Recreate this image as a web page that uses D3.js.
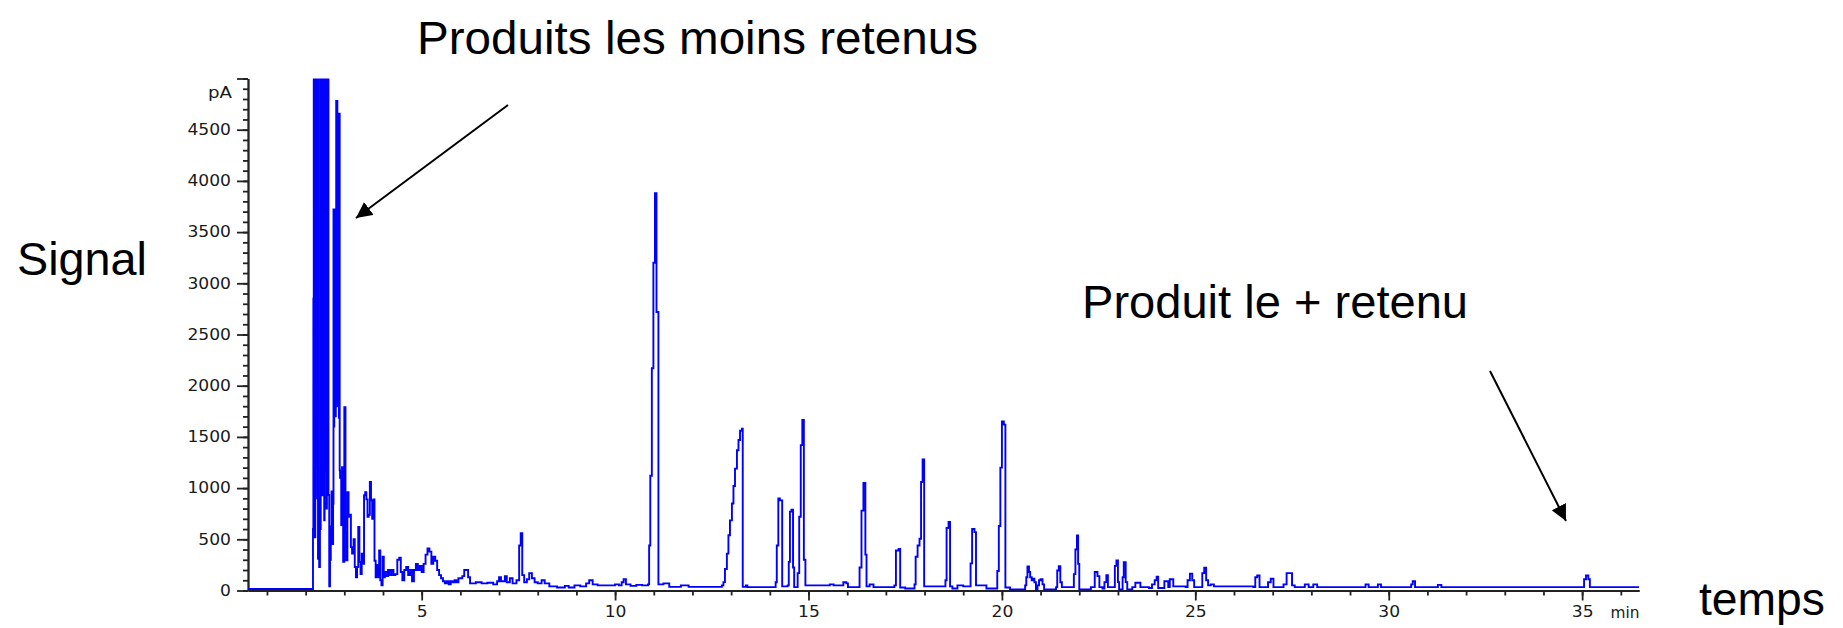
<!DOCTYPE html>
<html><head><meta charset="utf-8">
<script src="https://cdn.jsdelivr.net/npm/d3@7"></script>
<style>body{margin:0;background:#fff;overflow:hidden}</style>
</head><body>
<svg id="c" width="1843" height="628"></svg>
<script>
// ---- data (retention time in min, signal in pA) ----
const times = [
0.51,2.19,2.20,2.21,2.22,2.23,2.24,2.25,2.26,2.27,2.28,2.29,2.30,2.31,2.32,2.33,2.34,2.35,2.37,
2.39,2.40,2.41,2.42,2.43,2.44,2.45,2.46,2.47,2.48,2.49,2.50,2.51,2.52,2.53,2.54,2.55,2.56,2.57,
2.59,2.61,2.63,2.65,2.67,2.69,2.71,2.72,2.73,2.74,2.75,2.76,2.77,2.78,2.79,2.80,2.81,2.82,2.83,
2.84,2.85,2.86,2.87,2.88,2.89,2.92,2.94,2.97,3.00,3.03,3.05,3.08,3.11,3.14,3.17,3.20,3.24,3.27,
3.30,3.33,3.36,3.39,3.42,3.45,3.48,3.51,3.54,3.57,3.60,3.63,3.66,3.69,3.72,3.75,3.78,3.81,3.84,
3.87,3.90,3.93,3.96,3.99,4.02,4.05,4.09,4.13,4.17,4.22,4.27,4.32,4.37,4.42,4.46,4.50,4.55,4.60,
4.65,4.70,4.75,4.80,4.85,4.90,4.95,5.00,5.05,5.10,5.15,5.20,5.25,5.30,5.35,5.40,5.45,5.50,5.55,
5.60,5.65,5.70,5.75,5.80,5.85,5.90,5.95,6.05,6.10,6.20,6.25,6.40,6.55,6.70,6.85,6.95,7.00,7.05,
7.15,7.20,7.28,7.35,7.45,7.52,7.56,7.60,7.65,7.72,7.78,7.85,7.92,8.00,8.10,8.18,8.30,8.50,8.70,
8.80,8.95,9.10,9.25,9.33,9.42,9.55,9.90,10.00,10.10,10.17,10.22,10.28,10.40,10.55,10.70,10.85,
10.88,10.91,10.95,10.99,11.03,11.07,11.12,11.25,11.40,11.70,11.90,12.76,12.80,12.84,12.89,12.93,
12.97,13.02,13.06,13.10,13.15,13.19,13.23,13.28,13.30,13.38,13.42,14.15,14.18,14.22,14.26,14.30,
14.32,14.46,14.49,14.52,14.56,14.60,14.63,14.72,14.76,14.80,14.84,14.88,14.92,15.55,15.65,15.90,
15.98,16.02,16.32,16.37,16.42,16.47,16.50,16.58,16.68,17.22,17.26,17.33,17.37,17.50,17.74,17.77,
17.82,17.87,17.91,17.95,17.99,18.54,18.57,18.62,18.66,18.72,18.85,19.00,19.19,19.23,19.29,19.33,
19.60,19.88,19.92,19.96,20.00,20.05,20.09,20.21,20.60,20.63,20.66,20.70,20.73,20.77,20.80,20.84,
20.88,20.92,20.96,21.00,21.05,21.09,21.40,21.43,21.47,21.51,21.55,21.86,21.90,21.94,21.97,22.00,
22.30,22.40,22.47,22.52,22.60,22.65,22.70,22.74,22.86,22.92,22.96,23.00,23.03,23.12,23.15,23.20,
23.24,23.37,23.45,23.58,23.80,23.88,23.95,24.00,24.04,24.20,24.30,24.34,24.43,24.75,24.80,24.86,
24.92,24.97,25.15,25.18,25.23,25.28,25.33,25.40,25.48,26.50,26.55,26.60,26.66,26.85,26.88,26.95,
27.02,27.20,27.28,27.36,27.42,27.50,27.57,27.83,27.93,28.05,28.15,29.40,29.48,29.72,29.80,30.58,
30.62,30.68,31.27,31.36,35.02,35.05,35.10,35.16,35.20,36.47
];
const signal = [
15,600,2850,9999,1720,9999,520,9999,1200,9999,1720,9999,900,9999,310,9999,900,230,600,
9999,1600,9999,930,9999,3660,9999,1000,9999,685,9999,1200,9999,2000,9999,800,9999,1500,9999,
933,42,300,626,968,453,850,3720,1600,3720,2000,3720,1700,3720,4780,2500,4780,1800,4656,
3000,4656,1686,4656,1173,1100,640,1205,280,1790,560,294,960,720,740,424,360,500,230,
130,230,620,280,160,360,260,930,960,890,720,740,1060,880,700,890,290,130,250,
130,390,100,50,330,130,180,140,200,150,200,150,160,300,320,180,100,200,230,
150,200,90,200,260,200,240,180,260,350,410,380,260,330,290,200,150,120,90,
70,90,60,90,80,100,80,120,140,200,130,70,80,70,75,60,90,130,90,
140,80,120,70,100,440,560,150,80,110,170,120,80,70,100,70,40,30,45,
30,50,40,70,100,60,50,50,60,50,80,110,60,45,55,50,60,
440,1120,2170,3200,3880,2720,60,70,35,50,35,50,82,210,360,540,
685,850,1020,1190,1370,1470,1560,1580,35,50,33,80,440,900,880,880,
40,50,280,770,790,225,33,170,720,1420,1665,300,50,60,50,80,
70,33,225,780,1050,350,40,60,33,50,390,405,30,20,60,330,
440,505,1060,1280,40,100,610,670,40,20,50,40,265,600,570,50,
20,190,630,1200,1650,1620,30,10,50,130,235,180,130,100,115,80,
10,50,100,110,60,10,33,196,238,80,33,160,400,538,260,10,
33,180,140,33,20,82,150,33,33,240,294,82,10,130,277,82,
10,33,76,33,25,60,100,135,25,90,33,110,40,33,100,165,
100,33,33,170,222,100,50,60,40,33,130,147,33,33,80,115,
33,33,60,170,170,50,33,60,33,60,33,60,33,60,33,60,
90,33,55,33,33,110,147,110,33,33
];
const xMajorTicks = [5,10,15,20,25,30,35];
const yMajorTicks = [0,500,1000,1500,2000,2500,3000,3500,4000,4500,5000];
const xUnit = "min";
const yUnit = "pA";
const titleTop = "Produits les moins retenus";
const titleRight = "Produit le + retenu";
const yTitle = "Signal";
const xTitle = "temps";

const svg = d3.select("#c");
const x = d3.scaleLinear().domain([0.51, 36.47]).range([248, 1639]);
const y = d3.scaleLinear().domain([0, 5000]).range([590.5, 78.5]);
const data = times.map((t, i) => ({t, v: signal[i]}));

svg.append("defs").append("clipPath").attr("id", "plot")
  .append("rect").attr("x", x.range()[0]).attr("y", y(5000))
  .attr("width", x.range()[1] - x.range()[0]).attr("height", y(0) - y(5000));

// axes
const axisColor = "#222";
const labelFont = "'DejaVu Sans', sans-serif";
const minorX = d3.axisBottom(x).tickValues(d3.range(1, 37)).tickSize(5).tickSizeOuter(0).tickFormat("");
const majorX = d3.axisBottom(x).tickValues(xMajorTicks).tickSize(10).tickSizeOuter(0).tickPadding(6);
const minorY = d3.axisLeft(y).tickValues(d3.range(0, 5001, 100)).tickSize(5).tickSizeOuter(0).tickFormat("");
const majorY = d3.axisLeft(y).tickValues(yMajorTicks).tickSize(11).tickSizeOuter(0).tickPadding(6)
  .tickFormat(d => d === 5000 ? "" : d);

function styleAxis(g) {
  g.selectAll("path,line").attr("stroke", axisColor).attr("stroke-width", 1.8);
  g.selectAll("text").attr("fill", "#1a1a1a").style("font-family", labelFont).style("font-size", "15px")
    .attr("textLength", function(){ return this.textContent.length * 10.9; })
    .attr("lengthAdjust", "spacingAndGlyphs");
}
const gx = svg.append("g").attr("transform", `translate(0,${y(0)})`);
gx.append("g").call(minorX).call(styleAxis);
gx.append("g").call(majorX).call(styleAxis);
const gy = svg.append("g").attr("transform", `translate(${x.range()[0]},0)`);
gy.append("g").call(minorY).call(styleAxis);
gy.append("g").call(majorY).call(styleAxis);

svg.append("text").attr("x", 232).attr("y", 98).attr("text-anchor", "end")
  .attr("fill", "#1a1a1a").style("font-family", labelFont).style("font-size", "15px")
  .attr("textLength", 24).attr("lengthAdjust", "spacingAndGlyphs").text(yUnit);
svg.append("text").attr("x", 1625).attr("y", 618).attr("text-anchor", "middle")
  .attr("fill", "#1a1a1a").style("font-family", labelFont).style("font-size", "15px")
  .attr("textLength", 29).attr("lengthAdjust", "spacingAndGlyphs").text(xUnit);

// trace
svg.append("path").datum(data)
  .attr("clip-path", "url(#plot)")
  .attr("fill", "none").attr("stroke", "#0000ff").attr("stroke-width", 1.9)
  .attr("d", d3.line().x(d => x(d.t)).y(d => y(d.v)).curve(d3.curveStepAfter));

// annotations
const big = "'Liberation Sans', Arial, sans-serif";
function bigText(tx, px, py, w) {
  svg.append("text").attr("x", px).attr("y", py).attr("fill", "#000")
    .style("font-family", big).style("font-size", "47px")
    .attr("textLength", w).attr("lengthAdjust", "spacingAndGlyphs").text(tx);
}
bigText(titleTop, 417, 54, 561);
bigText(yTitle, 17, 275, 130);
bigText(titleRight, 1082, 318, 386);
bigText(xTitle, 1699, 615, 126);

svg.select("defs").append("marker").attr("id", "ah")
  .attr("viewBox", "0 0 10 10").attr("refX", 10).attr("refY", 5)
  .attr("markerWidth", 8).attr("markerHeight", 8).attr("markerUnits", "strokeWidth")
  .attr("orient", "auto")
  .append("path").attr("d", "M0,0 L10,5 L0,10 z").attr("fill", "#000");
function arrow(x1, y1, x2, y2) {
  svg.append("line").attr("x1", x1).attr("y1", y1).attr("x2", x2).attr("y2", y2)
    .attr("stroke", "#000").attr("stroke-width", 2).attr("marker-end", "url(#ah)");
}
arrow(508, 105, 356, 218);
arrow(1490, 371, 1566, 521);
</script>
</body></html>
